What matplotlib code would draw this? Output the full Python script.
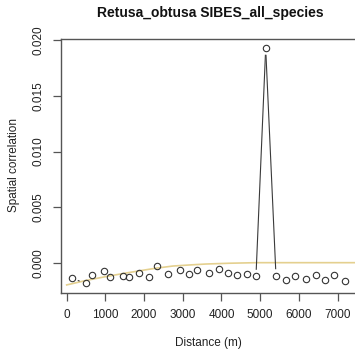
import numpy as np
import matplotlib
matplotlib.use("Agg")
import matplotlib.pyplot as plt

plt.rcParams['font.family'] = ['Liberation Sans', 'DejaVu Sans']

distance = [129, 491, 646, 964, 1119, 1447, 1602, 1868, 2134, 2326, 2618, 2920,
            3160, 3375, 3669, 3935, 4160, 4400, 4659, 4891, 5142, 5408, 5667,
            5899, 6176, 6434, 6674, 6915, 7191]
correlation = [-0.00140, -0.00185, -0.00113, -0.00077, -0.00129, -0.00122, -0.00129,
               -0.00090, -0.00131, -0.00027, -0.00099, -0.00068, -0.00102, -0.00068,
               -0.00090, -0.00054, -0.00090, -0.00108, -0.00102, -0.00122, 0.01928,
               -0.00117, -0.00156, -0.00122, -0.00149, -0.00108, -0.00156, -0.00113,
               -0.00162]
trend_x = [0, 500, 1000, 1500, 1900, 2300, 2750, 3200, 3600, 4200, 4900, 6000, 7500]
trend_y = [-0.00200, -0.00160, -0.00126, -0.00095, -0.00072, -0.00050, -0.00030,
           -0.00020, -0.00012, -0.00005, 0.0, 0.0, 0.0]
xticks = [0, 1000, 2000, 3000, 4000, 5000, 6000, 7000]
yticks = [0.000, 0.005, 0.010, 0.015, 0.020]

W, H = 355, 358
fig = plt.figure(figsize=(W / 100, H / 100), dpi=100)
ax = fig.add_axes([61 / W, 1 - 292.7 / H, 1 - 61 / W, (292.7 - 39) / H])
ax.set_xlim(-147, 7450)
ax.set_ylim(-0.0027, 0.02012)

ink = '#333333'
ax.plot(trend_x, trend_y, color='#E4D08F', lw=1.2, zorder=1)

# R-style type="b": segments with gaps around the points
fig.canvas.draw()
pts = ax.transData.transform(np.column_stack([distance, correlation]))
gap = 7.0
inv = ax.transData.inverted()
for (x0, y0), (x1, y1) in zip(pts[:-1], pts[1:]):
    d = np.hypot(x1 - x0, y1 - y0)
    if d > 2 * gap:
        ux, uy = (x1 - x0) / d, (y1 - y0) / d
        a = inv.transform((x0 + ux * gap, y0 + uy * gap))
        b = inv.transform((x1 - ux * gap, y1 - uy * gap))
        ax.plot([a[0], b[0]], [a[1], b[1]], color='#3a3a3a', lw=0.8, zorder=2)

ax.plot(distance, correlation, ls='none', marker='o', markersize=4.6,
        markerfacecolor='none', markeredgecolor=ink, markeredgewidth=0.8, zorder=3)

for s in ['left', 'top', 'bottom']:
    ax.spines[s].set_color('#555555')
    ax.spines[s].set_linewidth(1.0)
ax.spines['right'].set_visible(False)

ax.set_xticks(xticks)
ax.set_xticklabels([str(t) for t in xticks])
ax.set_yticks(yticks)
ax.set_yticklabels([f"{t:.3f}" for t in yticks], rotation=90, va='center')
ax.tick_params(axis='both', length=6, width=0.9, color='#555555', labelsize=8.5,
               labelcolor='#222222')
ax.tick_params(axis='x', pad=6)
ax.tick_params(axis='y', pad=6)

fig.text(210 / W, 1 - 13 / H, 'Retusa_obtusa SIBES_all_species', ha='center', va='center',
         fontsize=10, fontweight='bold', color='#111111')
fig.text(208 / W, 1 - 343 / H, 'Distance (m)', ha='center', va='center', fontsize=8.5,
         color='#222222')
fig.text(14 / W, 1 - 165 / H, 'Spatial correlation', ha='center', va='center',
         rotation=90, fontsize=8.5, color='#222222')

fig.savefig('out.png', dpi=100)
